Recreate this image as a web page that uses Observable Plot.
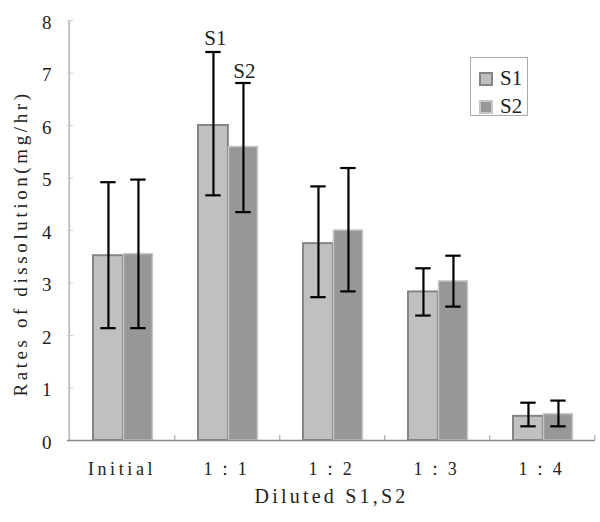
<!DOCTYPE html>
<html>
<head>
<meta charset="utf-8">
<script src="https://cdn.jsdelivr.net/npm/d3@7"></script>
<script src="https://cdn.jsdelivr.net/npm/@observablehq/plot@0.6"></script>
<style>
  body { margin: 0; background: #fff; }
  #wrap { position: relative; width: 600px; height: 522px; }
  #wrap svg text { font-family: "Liberation Serif", "Times New Roman", serif !important; }
  #legend { position: absolute; left: 470px; top: 57px; width: 56px; height: 57px;
            border: 1px solid #aaa; background: #fff; font-family: "Liberation Serif", serif; font-size: 21px; color: #222; }
  .item { position: absolute; left: 8px; display: flex; align-items: center; }
  .sw { width: 10px; height: 10px; margin-right: 7px; box-sizing: content-box; }
</style>
</head>
<body>
<div id="wrap"></div>
<script>
const categories = ["Initial", "1：1", "1：2", "1：3", "1：4"];
const seriesNames = ["S1", "S2"];
const s1Mean = [3.52, 6.00, 3.75, 2.83, 0.46];
const s1Low  = [2.14, 4.67, 2.73, 2.38, 0.27];
const s1High = [4.92, 7.40, 4.84, 3.28, 0.72];
const s2Mean = [3.55, 5.59, 4.00, 3.03, 0.50];
const s2Low  = [2.14, 4.35, 2.84, 2.55, 0.27];
const s2High = [4.97, 6.81, 5.19, 3.52, 0.76];
const yTicks = [0, 1, 2, 3, 4, 5, 6, 7, 8];
const annotated = "1：1";
const yTitle = "Rates of dissolution(mg/hr)";
const xTitle = "Diluted S1,S2";

const rows = [];
categories.forEach((c, i) => {
  rows.push({cat: c, series: "S1", mean: s1Mean[i], lo: s1Low[i], hi: s1High[i]});
  rows.push({cat: c, series: "S2", mean: s2Mean[i], lo: s2Low[i], hi: s2High[i]});
});
const S1 = rows.filter(d => d.series === "S1");
const S2 = rows.filter(d => d.series === "S2");

const W = 600, H = 522, mL = 67, mR = 5, mT = 20, mB = 82;
const bw = (W - mL - mR) / categories.length;
const plotH = H - mT - mB;
// layout of the pair inside each band (pixels)
const s1Left = 24, s1W = 30.5, s2W = 29.5, capW = 16;
const s2Left = s1Left + s1W;
const c1 = s1Left + s1W / 2, c2 = s2Left + s2W / 2;
const dx1 = c1 - bw / 2, dx2 = c2 - bw / 2;

const S1style = {fill: "#c0c0c0", stroke: "#858585", strokeWidth: 2};
const S2style = {fill: "#979797", stroke: "#c6c6c6", strokeWidth: 1.5};
const serif = "Liberation Serif";

const chart = Plot.plot({
  width: W, height: H,
  marginLeft: mL, marginRight: mR, marginTop: mT, marginBottom: mB,
  x: {type: "band", domain: categories, padding: 0},
  y: {domain: [0, 8]},
  marks: [
    Plot.barY(S1, {x: "cat", y: "mean", ...S1style, insetLeft: s1Left, insetRight: bw - s1Left - s1W}),
    Plot.barY(S2, {x: "cat", y: "mean", ...S2style, insetLeft: s2Left, insetRight: bw - s2Left - s2W}),
    // axis lines and ticks
    Plot.ruleY([0], {stroke: "#8a8a8a", strokeWidth: 1.3}),
    Plot.ruleX([categories[0]], {x: d => d, dx: -bw / 2, stroke: "#a8a8a8", strokeWidth: 1.3}),
    Plot.ruleX(categories, {x: d => d, dx: bw / 2, insetTop: plotH - 5, stroke: "#999", strokeWidth: 1}),
    Plot.ruleY(yTicks.slice(1), {y: d => d, insetRight: W - mL - mR - 6, stroke: "#ccc", strokeWidth: 1}),
    // error bars
    Plot.ruleX(S1, {x: "cat", y1: "lo", y2: "hi", dx: dx1, stroke: "#000", strokeWidth: 2.2}),
    Plot.ruleX(S2, {x: "cat", y1: "lo", y2: "hi", dx: dx2, stroke: "#000", strokeWidth: 2.2}),
    Plot.tickY(S1, {x: "cat", y: "hi", insetLeft: c1 - capW / 2, insetRight: bw - c1 - capW / 2, stroke: "#000", strokeWidth: 2.2}),
    Plot.tickY(S1, {x: "cat", y: "lo", insetLeft: c1 - capW / 2, insetRight: bw - c1 - capW / 2, stroke: "#000", strokeWidth: 2.2}),
    Plot.tickY(S2, {x: "cat", y: "hi", insetLeft: c2 - capW / 2, insetRight: bw - c2 - capW / 2, stroke: "#000", strokeWidth: 2.2}),
    Plot.tickY(S2, {x: "cat", y: "lo", insetLeft: c2 - capW / 2, insetRight: bw - c2 - capW / 2, stroke: "#000", strokeWidth: 2.2}),
    // annotations
    Plot.text(S1.filter(d => d.cat === annotated), {x: "cat", y: "hi", text: "series", dx: dx1 + 2, dy: -7, lineAnchor: "bottom",
      fontFamily: serif, fontSize: 21, fill: "#222"}),
    Plot.text(S2.filter(d => d.cat === annotated), {x: "cat", y: "hi", text: "series", dx: dx2 + 1, dy: -5, lineAnchor: "bottom",
      fontFamily: serif, fontSize: 21, fill: "#222"}),
    // axes
    Plot.axisY(yTicks, {tickSize: 0, tickPadding: 16, dy: 2, label: null, tickFormat: d => String(d), fontFamily: serif, fontSize: 19, fill: "#222"}),
    Plot.axisX({tickSize: 0, tickPadding: 22, label: null, fontFamily: serif, fontSize: 18, fill: "#222"}),
    Plot.text([yTitle], {frameAnchor: "left", rotate: -90, dx: -47, dy: 13, textAnchor: "middle",
      fontFamily: serif, fontSize: 19, fill: "#222"}),
    Plot.text([xTitle], {frameAnchor: "bottom", dy: 62, textAnchor: "middle",
      fontFamily: serif, fontSize: 20, fill: "#222"})
  ]
});

// SimSun-like wide spacing of the Latin text
const svg = d3.select(chart);
svg.selectAll('g[aria-label="x-axis tick label"] text').style("letter-spacing", "3.6px");
svg.selectAll("text").filter(function () { return this.textContent === yTitle; }).style("letter-spacing", "3.6px");
svg.selectAll("text").filter(function () { return this.textContent === xTitle; }).style("letter-spacing", "3.2px");

const wrap = document.getElementById("wrap");
wrap.appendChild(chart);

const legend = document.createElement("div");
legend.id = "legend";
[[seriesNames[0], S1style, 8], [seriesNames[1], S2style, 36]].forEach(([name, st, top]) => {
  const item = document.createElement("div");
  item.className = "item";
  item.style.top = top + "px";
  const sw = document.createElement("span");
  sw.className = "sw";
  sw.style.background = st.fill;
  sw.style.border = "2px solid " + st.stroke;
  const lab = document.createElement("span");
  lab.textContent = name;
  item.appendChild(sw); item.appendChild(lab);
  legend.appendChild(item);
});
wrap.appendChild(legend);
</script>
</body>
</html>
